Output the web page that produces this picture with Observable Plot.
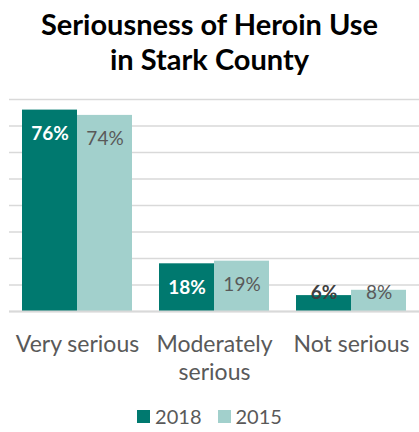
<!DOCTYPE html>
<html>
<head>
<meta charset="utf-8">
<script src="https://cdn.jsdelivr.net/npm/d3@7"></script>
<script src="https://cdn.jsdelivr.net/npm/@observablehq/plot@0.6"></script>
<style>
  html, body { margin: 0; padding: 0; background: #fff; }
  body { width: 419px; font-family: Lato, "Open Sans", sans-serif; }
  #title { text-align: center; font-weight: bold; font-size: 29px; line-height: 35px; color: #000; padding-top: 6px; box-sizing: border-box; height: 88px; }
  #legend { display: flex; justify-content: center; align-items: center; gap: 16px; font-size: 20px; color: #595959; margin-top: 16px; }
  .sw { display: inline-block; width: 13px; height: 13px; margin-right: 5px; }
  .item { display: flex; align-items: center; }
</style>
</head>
<body>
<div id="title">Seriousness of Heroin Use<br>in Stark County</div>
<div id="chart"></div>
<div id="legend"></div>
<script>
const categories = ["Very serious", "Moderately serious", "Not serious"];
const axisLabels = ["Very serious", "Moderately\nserious", "Not serious"];
const years = ["2018", "2015"];
const values2018 = [76, 18, 6];
const values2015 = [74, 19, 8];
const yTicks = [0, 10, 20, 30, 40, 50, 60, 70, 80];
const colors = ["#00796f", "#a2d0cc"];

const rows2018 = categories.map((c, i) => ({category: c, year: years[0], value: values2018[i]}));
const rows2015 = categories.map((c, i) => ({category: c, year: years[1], value: values2015[i]}));

const half = 55;
const labelY = d => Math.max(d.value - 9, 7);

const chart = Plot.plot({
  width: 419,
  height: 300,
  marginLeft: 9,
  marginRight: 0,
  marginTop: 11,
  marginBottom: 77,
  style: {fontFamily: "Lato, 'Open Sans', sans-serif", overflow: "visible", background: "white"},
  x: {domain: categories, paddingInner: 0.2, paddingOuter: 0.09, label: null},
  y: {domain: [0, 80], axis: null},
  marks: [
    Plot.gridY(yTicks, {stroke: "#d9d9d9", strokeOpacity: 1, strokeWidth: 1.5}),
    Plot.barY(rows2018, {x: "category", y: "value", fill: colors[0], insetRight: half}),
    Plot.barY(rows2015, {x: "category", y: "value", fill: colors[1], insetLeft: half}),
    Plot.ruleY([0], {stroke: "#d9d9d9", strokeWidth: 2}),
    Plot.text(rows2018, {x: "category", y: labelY, dx: -27.5, text: d => d.value + "%",
      fill: d => d.value < 10 ? "#404040" : "white", fontWeight: "bold", fontSize: 19}),
    Plot.text(rows2015, {x: "category", y: labelY, dx: 27.5, text: d => d.value + "%",
      fill: "#595959", fontSize: 19}),
    Plot.axisX({tickSize: 0, tickPadding: 21, fontSize: 23, fill: "#595959", lineHeight: 1.2,
      tickFormat: d => axisLabels[categories.indexOf(d)], label: null})
  ]
});
document.getElementById("chart").appendChild(chart);

const legend = document.getElementById("legend");
years.forEach((y, i) => {
  const item = document.createElement("span");
  item.className = "item";
  item.innerHTML = `<span class="sw" style="background:${colors[i]}"></span>${y}`;
  legend.appendChild(item);
});
</script>
</body>
</html>
